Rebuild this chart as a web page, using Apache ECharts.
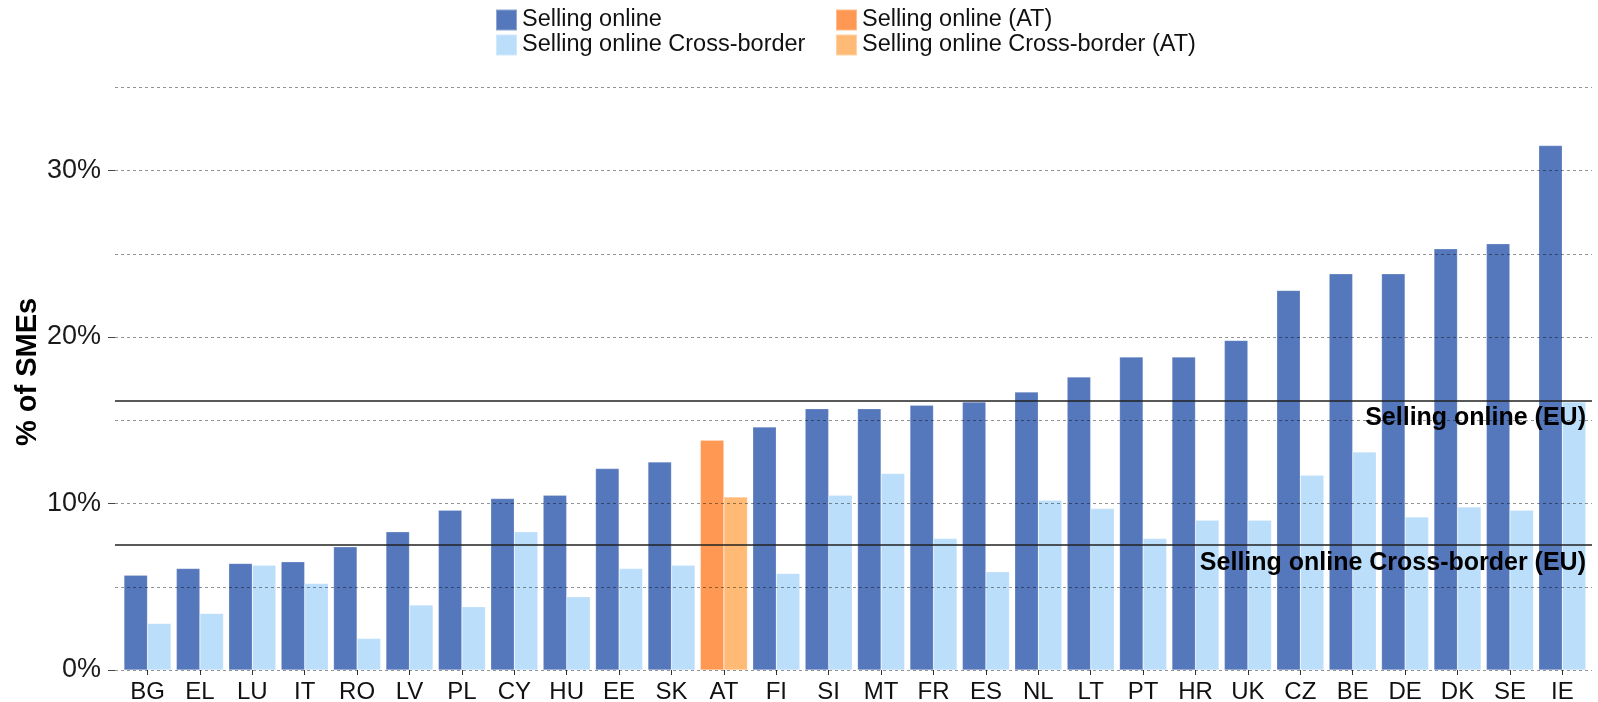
<!DOCTYPE html>
<html>
<head>
<meta charset="utf-8">
<script src="https://cdn.jsdelivr.net/npm/echarts@6/dist/echarts.min.js"></script>
<style>
html,body{margin:0;padding:0;background:#fff;}
#c{width:1598px;height:702px;}
</style>
</head>
<body>
<div id="c"></div>
<script>
const categories = ['BG','EL','LU','IT','RO','LV','PL','CY','HU','EE','SK','AT','FI','SI','MT','FR','ES','NL','LT','PT','HR','UK','CZ','BE','DE','DK','SE','IE'];
const sellingOnline = [5.7,6.1,6.4,6.5,7.4,8.3,9.6,10.3,10.5,12.1,12.5,13.8,14.6,15.7,15.7,15.9,16.1,16.7,17.6,18.8,18.8,19.8,22.8,23.8,23.8,25.3,25.6,31.5];
const sellingCross = [2.8,3.4,6.3,5.2,1.9,3.9,3.8,8.3,4.4,6.1,6.3,10.4,5.8,10.5,11.8,7.9,5.9,10.2,9.7,7.9,9.0,9.0,11.7,13.1,9.2,9.8,9.6,16.1];
const highlightCountry = 'AT';
const euAverages = [16.2, 7.5];
const euLabels = ['Selling online (EU)', 'Selling online Cross-border (EU)'];
const yLabelValues = [0, 10, 20, 30];
const seriesNames = ['Selling online', 'Selling online Cross-border', 'Selling online (AT)', 'Selling online Cross-border (AT)'];

const FONT = '"Liberation Sans", Arial, Helvetica, sans-serif';
const colors = ['#5577BB', '#BBDEFB', '#FF9852', '#FFBB76'];

const others = arr => arr.map((v, i) => categories[i] === highlightCountry ? '-' : v);
const onlyHi = arr => arr.map((v, i) => categories[i] === highlightCountry ? v : '-');

const chart = echarts.init(document.getElementById('c'), null, {renderer: 'canvas'});

function barSeries(name, data, stack, color) {
  return {
    name, type: 'bar', stack, data,
    xAxisIndex: 1, yAxisIndex: 2,
    barGap: '0%', barCategoryGap: '10%',
    itemStyle: {color, borderColor: 'rgba(255,255,255,0.35)', borderWidth: 0.6},
    emphasis: {disabled: true},
    z: 2
  };
}

const legendCommon = {
  top: 8, orient: 'vertical', itemGap: 1, padding: 0,
  itemWidth: 21, itemHeight: 21, icon: 'rect',
  textStyle: {fontSize: 23.5, color: '#111', fontFamily: FONT},
  selectedMode: false
};

const option = {
  backgroundColor: '#fff',
  animation: false,
  textStyle: {fontFamily: FONT},
  legend: [
    Object.assign({left: 495, data: [seriesNames[0], seriesNames[1]]}, legendCommon),
    Object.assign({left: 835, data: [seriesNames[2], seriesNames[3]]}, legendCommon)
  ],
  grid: [
    {left: 115, right: 6, top: 87.3, bottom: 32, containLabel: false, outerBoundsMode: 'none'},
    {left: 121.3, right: 9.5, top: 87.3, bottom: 32, containLabel: false, outerBoundsMode: 'none'}
  ],
  xAxis: [
    {type: 'value', gridIndex: 0, min: 0, max: 1, show: false},
    {
      type: 'category', gridIndex: 1, data: categories,
      axisLine: {show: false},
      axisTick: {show: true, alignWithLabel: true, length: 5, lineStyle: {color: '#333'}},
      axisLabel: {interval: 0, fontSize: 24, color: '#111', margin: 10, fontFamily: FONT},
      splitLine: {show: false}
    }
  ],
  yAxis: [
    {
      type: 'value', gridIndex: 0, min: 0, max: 35, interval: 5, z: 3,
      axisLine: {show: false},
      axisTick: {show: false},
      axisLabel: {show: false},
      splitLine: {show: true, lineStyle: {color: 'rgba(0,0,0,0.42)', type: [3, 3], width: 1}}
    },
    {
      type: 'value', gridIndex: 0, min: 0, max: 35, interval: 5, position: 'left',
      axisLine: {show: false},
      axisTick: {show: true, length: 7, customValues: yLabelValues, lineStyle: {color: '#444'}},
      axisLabel: {customValues: yLabelValues, formatter: v => v + '%', fontSize: 27, color: '#1a1a1a', margin: 14, fontFamily: FONT},
      splitLine: {show: false}
    },
    {type: 'value', gridIndex: 1, min: 0, max: 35, show: false}
  ],
  graphic: [
    {
      type: 'text', x: 28, y: 372, rotation: Math.PI / 2,
      style: {
        text: '% of SMEs', font: 'bold 29px ' + FONT, fill: '#000',
        align: 'center', verticalAlign: 'middle', textAlign: 'center', textVerticalAlign: 'middle'
      }
    }
  ],
  series: [
    barSeries(seriesNames[0], others(sellingOnline), 'online', colors[0]),
    barSeries(seriesNames[1], others(sellingCross), 'cross', colors[1]),
    barSeries(seriesNames[2], onlyHi(sellingOnline), 'online', colors[2]),
    barSeries(seriesNames[3], onlyHi(sellingCross), 'cross', colors[3]),
    {
      name: 'EU', type: 'line', xAxisIndex: 0, yAxisIndex: 0, data: [], z: 5,
      markLine: {
        silent: true, symbol: 'none', animation: false,
        lineStyle: {color: '#222', type: 'solid', width: 1.5},
        label: {show: true, position: 'insideEndBottom', formatter: '{b}', fontSize: 25, fontWeight: 'bold', color: '#000', fontFamily: FONT, distance: [6, 5]},
        data: euAverages.map((v, i) => ({yAxis: v, name: euLabels[i]}))
      }
    }
  ]
};
chart.setOption(option);
</script>
</body>
</html>
